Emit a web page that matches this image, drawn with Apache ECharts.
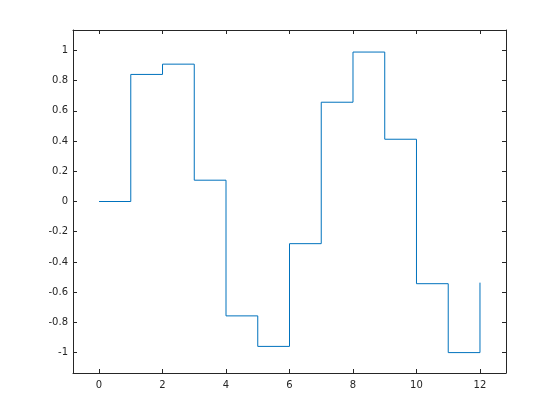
<!DOCTYPE html>
<html>
<head>
<meta charset="utf-8">
<script src="https://cdn.jsdelivr.net/npm/echarts@6/dist/echarts.min.js"></script>
<style>
  html, body { margin: 0; padding: 0; background: #fff; }
  #chart { width: 560px; height: 420px; }
</style>
</head>
<body>
<div id="chart"></div>
<script>
// stairs data
const xs = [0, 1, 2, 3, 4, 5, 6, 7, 8, 9, 10, 11, 12];
const ys = [0, 0.841, 0.909, 0.141, -0.757, -0.959, -0.279, 0.657, 0.989, 0.412, -0.544, -1.0, -0.537];
const xTicks = [0, 2, 4, 6, 8, 10, 12];
const yTicks = [-1, -0.8, -0.6, -0.4, -0.2, 0, 0.2, 0.4, 0.6, 0.8, 1];

const axisColor = '#262626';
const font = 'DejaVu Sans, sans-serif';

let chart = echarts.init(document.getElementById('chart'));

function xAxisDef(pos, showLabel) {
    return {
        type: 'value',
        position: pos,
        min: -0.82,
        max: 12.82,
        axisLine: { show: true, onZero: false, lineStyle: { color: axisColor, width: 1 } },
        axisTick: { show: true, inside: true, length: 4, customValues: xTicks, lineStyle: { color: axisColor } },
        axisLabel: {
            show: showLabel, customValues: xTicks, color: axisColor,
            fontFamily: font, fontSize: 10, margin: 7
        },
        splitLine: { show: false }
    };
}

function yAxisDef(pos, showLabel) {
    return {
        type: 'value',
        position: pos,
        min: -1.135,
        max: 1.135,
        axisLine: { show: true, onZero: false, lineStyle: { color: axisColor, width: 1 } },
        axisTick: { show: true, inside: true, length: 4, customValues: yTicks, lineStyle: { color: axisColor } },
        axisLabel: {
            show: showLabel, customValues: yTicks, color: axisColor,
            fontFamily: font, fontSize: 10, margin: 5,
            formatter: v => String(Math.round(v * 10) / 10)
        },
        splitLine: { show: false }
    };
}

const option = {
    animation: false,
    backgroundColor: '#fff',
    grid: { left: 73, top: 30, right: 54, bottom: 47, containLabel: false },
    xAxis: [xAxisDef('bottom', true), xAxisDef('top', false)],
    yAxis: [yAxisDef('left', true), yAxisDef('right', false)],
    series: [
        {
            type: 'line',
            step: 'end',
            data: xs.map((x, i) => [x, ys[i]]),
            showSymbol: false,
            lineStyle: { color: '#0072BD', width: 1 },
            xAxisIndex: 0,
            yAxisIndex: 0
        }
    ]
};

chart.setOption(option);
</script>
</body>
</html>
